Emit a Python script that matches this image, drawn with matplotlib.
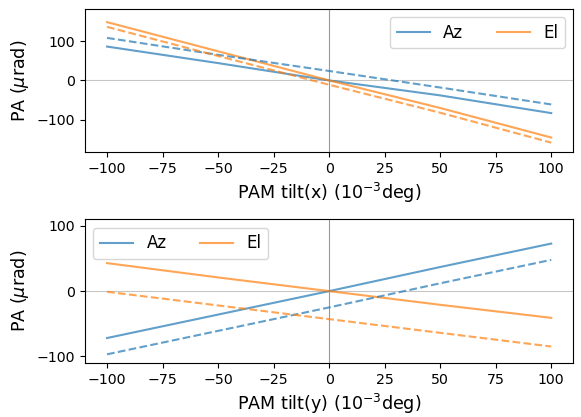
import matplotlib
matplotlib.use("Agg")
import matplotlib.pyplot as plt

# PAM tilt (1e-3 deg) sample points
tilt = [-100, -50, 0, 50, 100]
x_ticks = [-100, -75, -50, -25, 0, 25, 50, 75, 100]
y_ticks = [-100, 0, 100]

# tilt about x
az_x = [86, 44, 0, -38, -83]
az_x_dash = [108, 65, 24, -18, -61]
el_x = [148, 74, 0, -70, -145]
el_x_dash = [136, 62, -11, -82, -158]

# tilt about y
az_y = [-72, -36, 0, 37, 73]
az_y_dash = [-97, -61, -25, 12, 48]
el_y = [43, 21, 0, -21, -41]
el_y_dash = [-1, -22, -43, -64, -85]

plt.rcParams["font.size"] = 10.2

fig, (ax1, ax2) = plt.subplots(2, 1, figsize=(5.81, 4.17), dpi=100)
fig.subplots_adjust(left=0.146, right=0.987, top=0.979, bottom=0.13, hspace=0.47)

panels = [
    (ax1, az_x, az_x_dash, el_x, el_x_dash, "x", 182, "upper right"),
    (ax2, az_y, az_y_dash, el_y, el_y_dash, "y", 110, "upper left"),
]

for ax, az, az_d, el, el_d, axis, lim, loc in panels:
    ax.axhline(0, color="grey", lw=0.8, alpha=0.45)
    ax.axvline(0, color="grey", lw=0.8, alpha=0.8)
    ax.plot(tilt, az, color="tab:blue", alpha=0.7, label="Az")
    ax.plot(tilt, el, color="tab:orange", alpha=0.7, label="El")
    ax.plot(tilt, az_d, color="tab:blue", alpha=0.7, ls="--")
    ax.plot(tilt, el_d, color="tab:orange", alpha=0.7, ls="--")
    ax.set_ylim(-lim, lim)
    ax.set_xticks(x_ticks)
    ax.set_yticks(y_ticks)
    ax.set_xlabel(f"PAM tilt({axis}) ($10^{{-3}}$deg)", fontsize=12.6)
    ax.set_ylabel(r"PA ($\mu$rad)", fontsize=12.6)
    ax.legend(loc=loc, ncol=2, fontsize=12)

fig.savefig("out.png")
